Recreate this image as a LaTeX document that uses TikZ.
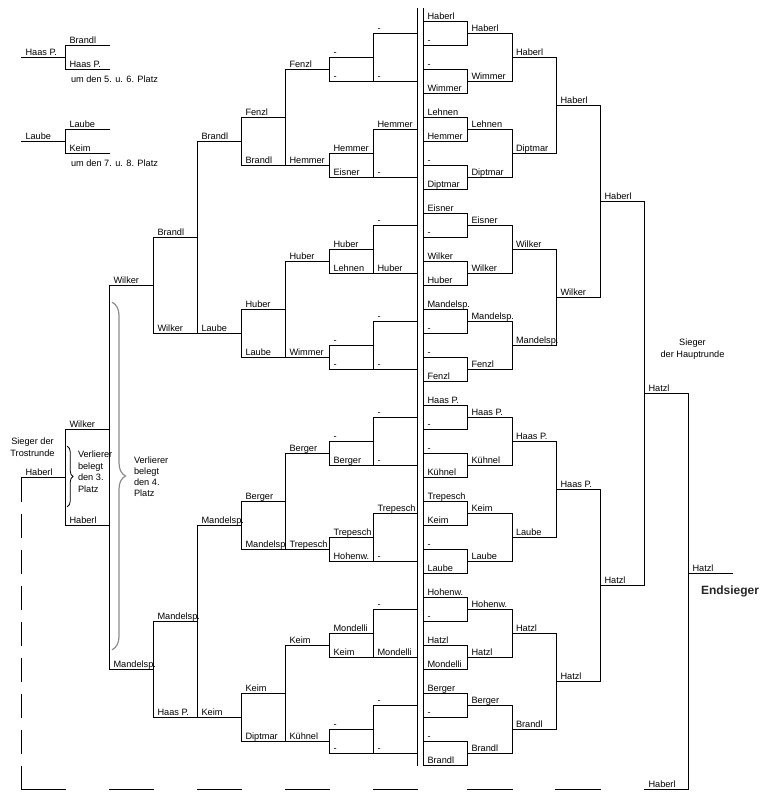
\documentclass[tikz,border=0pt]{standalone}
\usepackage{fontspec}
\setmainfont{Liberation Sans}
\usetikzlibrary{decorations.pathreplacing}
\tikzset{
  lbl/.style={anchor=base west, inner sep=0pt, font=\fontsize{9.2}{11}\selectfont},
  ctr/.style={anchor=base, inner sep=0pt, font=\fontsize{9.2}{11}\selectfont},
  bigbrace/.style={decorate, decoration={brace, amplitude=13pt}, line width=1.2pt, draw=black!45},
  smallbrace/.style={decorate, decoration={brace, amplitude=5.5pt}, line width=0.8pt},
  dashline/.style={dash pattern=on 24pt off 12pt, line cap=butt},
}
\begin{document}
\begin{tikzpicture}[x=1pt, y=-1pt, line width=1pt, line cap=rect]
\useasboundingbox (-0.5,-0.5) rectangle (766.5,799.5);
\fill[white] (-0.5,-0.5) rectangle (766.5,799.5);

% ---------- central double line ----------
\draw (417,8) -- (417,765);
\draw (423,8) -- (423,765);

% ---------- main round (right) ----------
\foreach \k in {0,...,31} \draw (423,{21+24*\k}) -- (467,{21+24*\k});
\foreach \j in {0,...,15} \draw (467,{21+48*\j}) -- (467,{45+48*\j}) (467,{33+48*\j}) -- (512,{33+48*\j});
\foreach \j in {0,...,7} \draw (512,{33+96*\j}) -- (512,{81+96*\j}) (512,{57+96*\j}) -- (556,{57+96*\j});
\foreach \j in {0,...,3} \draw (556,{57+192*\j}) -- (556,{153+192*\j}) (556,{105+192*\j}) -- (600,{105+192*\j});
\foreach \j in {0,1} \draw (600,{105+384*\j}) -- (600,{297+384*\j}) (600,{201+384*\j}) -- (644,{201+384*\j});
\draw (644,201) -- (644,585) (644,393) -- (688,393);
\draw (688,393) -- (688,789) (688,573) -- (732,573);

\foreach \n [count=\k from 0] in {Haberl,-,-,Wimmer,Lehnen,Hemmer,-,Diptmar,Eisner,-,Wilker,Huber,Mandelsp.,-,-,Fenzl,Haas P.,-,-,Kühnel,Trepesch,Keim,-,Laube,Hohenw.,-,Hatzl,Mondelli,Berger,-,-,Brandl}
  \node[lbl] (ra\k) at (426.5,{19+24*\k}) {\n};
\foreach \n [count=\k from 0] in {Haberl,Wimmer,Lehnen,Diptmar,Eisner,Wilker,Mandelsp.,Fenzl,Haas P.,Kühnel,Keim,Laube,Hohenw.,Hatzl,Berger,Brandl}
  \node[lbl] (rb\k) at (470.5,{31+48*\k}) {\n};
\foreach \n [count=\k from 0] in {Haberl,Diptmar,Wilker,Mandelsp.,Haas P.,Laube,Hatzl,Brandl}
  \node[lbl] (rc\k) at (515,{55+96*\k}) {\n};
\foreach \n [count=\k from 0] in {Haberl,Wilker,Haas P.,Hatzl}
  \node[lbl] (rd\k) at (559.5,{103+192*\k}) {\n};
\foreach \n [count=\k from 0] in {Haberl,Hatzl}
  \node[lbl] (re\k) at (603.5,{199+384*\k}) {\n};
\node[lbl] (rf) at (647.5,391) {Hatzl};
\node[lbl] (rg) at (691.5,571) {Hatzl};
\node[lbl] (rh) at (647.5,787) {Haberl};
\node[anchor=base west, inner sep=0pt, font=\fontsize{12}{14}\selectfont\bfseries, text=black!85] (endsieger) at (700,594) {Endsieger};
\node[ctr] (sh1) at (692,344.5) {Sieger};
\node[ctr] (sh2) at (692,357) {der Hauptrunde};

% ---------- consolation round (left) ----------
\foreach \j in {0,...,15} \draw (373,{33+48*\j}) -- (417,{33+48*\j});
\foreach \i in {0,...,7} \draw (373,{33+96*\i}) -- (373,{81+96*\i})
   (329,{57+96*\i}) -- (373,{57+96*\i})
   (329,{81+96*\i}) -- (373,{81+96*\i})
   (329,{57+96*\i}) -- (329,{81+96*\i})
   (285,{69+96*\i}) -- (329,{69+96*\i});
\foreach \i in {0,...,3} \draw (285,{69+192*\i}) -- (285,{165+192*\i})
   (241,{117+192*\i}) -- (285,{117+192*\i})
   (241,{165+192*\i}) -- (285,{165+192*\i})
   (241,{117+192*\i}) -- (241,{165+192*\i})
   (197,{141+192*\i}) -- (241,{141+192*\i});
\foreach \i in {0,1} \draw (197,{141+384*\i}) -- (197,{333+384*\i})
   (153,{237+384*\i}) -- (197,{237+384*\i})
   (153,{333+384*\i}) -- (197,{333+384*\i})
   (153,{237+384*\i}) -- (153,{333+384*\i})
   (109,{285+384*\i}) -- (153,{285+384*\i});
\draw (109,285) -- (109,669);
\draw (65,429) -- (109,429) (65,525) -- (109,525) (65,429) -- (65,525) (21,477) -- (65,477);
\draw[dashline] (21,477) -- (21,789.5);
\foreach \a in {21,109,197,285,373} \draw (\a,789) -- (\a+44,789);
\draw (467,789) -- (512,789) (555,789) -- (600,789) (644,789) -- (688,789);

\foreach \n [count=\k from 0] in {-,-,Hemmer,-,-,Huber,-,-,-,-,Trepesch,-,-,Mondelli,-,-}
  \node[lbl] (la\k) at (376.5,{31+48*\k}) {\n};
\foreach \n [count=\k from 0] in {-,Hemmer,Huber,-,-,Trepesch,Mondelli,-}
  \node[lbl] (lb\k) at (332.5,{55+96*\k}) {\n};
\foreach \n [count=\k from 0] in {-,Eisner,Lehnen,-,Berger,Hohenw.,Keim,-}
  \node[lbl] (lc\k) at (332.5,{79+96*\k}) {\n};
\foreach \n [count=\k from 0] in {Fenzl,Hemmer,Huber,Wimmer,Berger,Trepesch,Keim,Kühnel}
  \node[lbl] (ld\k) at (288.5,{67+96*\k}) {\n};
\foreach \n [count=\k from 0] in {Fenzl,Huber,Berger,Keim}
  \node[lbl] (le\k) at (244.5,{115+192*\k}) {\n};
\foreach \n [count=\k from 0] in {Brandl,Laube,Mandelsp,Diptmar}
  \node[lbl] (lf\k) at (244.5,{163+192*\k}) {\n};
\foreach \n [count=\k from 0] in {Brandl,Laube,Mandelsp.,Keim}
  \node[lbl] (lg\k) at (200.5,{139+192*\k}) {\n};
\foreach \n [count=\k from 0] in {Brandl,Mandelsp.}
  \node[lbl] (lh\k) at (156.5,{235+384*\k}) {\n};
\foreach \n [count=\k from 0] in {Wilker,Haas P.}
  \node[lbl] (li\k) at (156.5,{331+384*\k}) {\n};
\foreach \n [count=\k from 0] in {Wilker,Mandelsp.}
  \node[lbl] (lj\k) at (112.5,{283+384*\k}) {\n};
\node[lbl] (lk0) at (68.5,427) {Wilker};
\node[lbl] (lk1) at (68.5,523) {Haberl};
\node[lbl] (ll) at (24.5,475) {Haberl};
\node[ctr] (st1) at (32,444) {Sieger der};
\node[ctr] (st2) at (32,456) {Trostrunde};

% braces and notes
\draw[smallbrace] (67,446) -- (67,506);
\draw[bigbrace] (112,302) -- (112,649);
\node[lbl] (v3a) at (77,457) {Verlierer};
\node[lbl] (v3b) at (77,468.5) {belegt};
\node[lbl] (v3c) at (77,480) {den 3.};
\node[lbl] (v3d) at (77,491.5) {Platz};
\node[lbl] (v4a) at (133,462.5) {Verlierer};
\node[lbl] (v4b) at (133,473.5) {belegt};
\node[lbl] (v4c) at (133,484.5) {den 4.};
\node[lbl] (v4d) at (133,495.5) {Platz};

% ---------- places 5-8 ----------
\draw (21,57) -- (65,57) (65,45) -- (65,69) (65,45) -- (109,45) (65,69) -- (109,69);
\draw (21,141) -- (65,141) (65,129) -- (65,153) (65,129) -- (109,129) (65,153) -- (109,153);
\node[lbl] (p5) at (24.5,55) {Haas P.};
\node[lbl] (p5a) at (68.5,43) {Brandl};
\node[lbl] (p5b) at (68.5,67) {Haas P.};
\node[lbl] (p5t) at (70,81.5) {um den 5. u. 6. Platz};
\node[lbl] (p7) at (24.5,139) {Laube};
\node[lbl] (p7a) at (68.5,127) {Laube};
\node[lbl] (p7b) at (68.5,151) {Keim};
\node[lbl] (p7t) at (70,165.5) {um den 7. u. 8. Platz};
\end{tikzpicture}
\end{document}
